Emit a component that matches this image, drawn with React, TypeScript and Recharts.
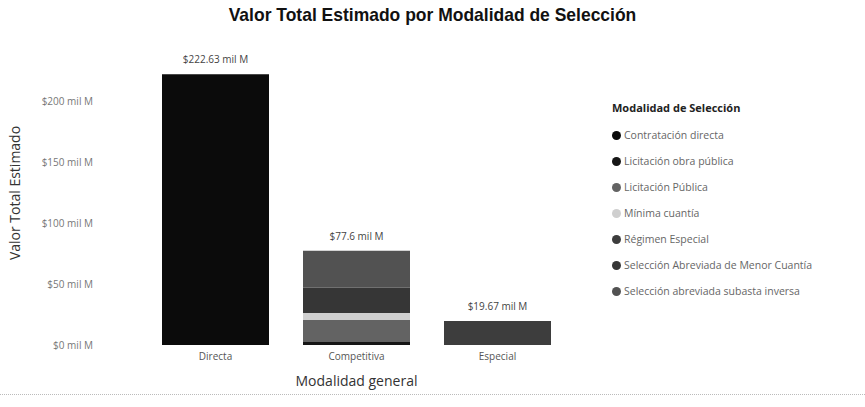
import React from "react";
import { BarChart, Bar, XAxis, YAxis, LabelList, Label } from "recharts";

const categories = ["Directa", "Competitiva", "Especial"];

// valores en miles de millones
const contratacionDirecta = [222.63, 0, 0];
const licitacionObraPublica = [0, 2.4, 0];
const licitacionPublica = [0, 18.2, 0];
const minimaCuantia = [0, 5.7, 0];
const regimenEspecial = [0, 0, 19.67];
const seleccionMenorCuantia = [0, 20.8, 0];
const seleccionSubastaInversa = [0, 30.5, 0];

const totalLabels = ["$222.63 mil M", "$77.6 mil M", "$19.67 mil M"];
const yTicks = [0, 50, 100, 150, 200];

const series = [
  { key: "cd", name: "Contratación directa", values: contratacionDirecta, color: "#0b0b0b" },
  { key: "lop", name: "Licitación obra pública", values: licitacionObraPublica, color: "#161616" },
  { key: "lp", name: "Licitación Pública", values: licitacionPublica, color: "#636363" },
  { key: "mc", name: "Mínima cuantía", values: minimaCuantia, color: "#cfcfcf" },
  { key: "re", name: "Régimen Especial", values: regimenEspecial, color: "#3d3d3d" },
  { key: "samc", name: "Selección Abreviada de Menor Cuantía", values: seleccionMenorCuantia, color: "#363636" },
  { key: "sasi", name: "Selección abreviada subasta inversa", values: seleccionSubastaInversa, color: "#525252" },
];

const data = categories.map((c, i) => {
  const row: Record<string, any> = { categoria: c };
  series.forEach((s) => (row[s.key] = s.values[i]));
  return row;
});

// la serie más alta con valor en cada categoría lleva el total
const topKey = categories.map((_, i) => {
  let k = "";
  series.forEach((s) => {
    if (s.values[i] > 0) k = s.key;
  });
  return k;
});

const font = "'Open Sans', 'DejaVu Sans', sans-serif";

const App: React.FC = () => {
  return (
    <div style={{ position: "absolute", left: 0, top: 0, width: 865, height: 407, background: "#fff" }}>
      <div
        style={{
          position: "absolute",
          top: 4,
          width: 865,
          textAlign: "center",
          fontFamily: "'Liberation Sans', sans-serif",
          fontWeight: 700,
          fontSize: 19,
          color: "#111",
          transform: "scaleX(0.92)",
        }}
      >
        Valor Total Estimado por Modalidad de Selección
      </div>
      <BarChart
        width={865}
        height={407}
        data={data}
        margin={{ top: 41, right: 297, bottom: 20, left: 0 }}
        barSize={107}
      >
        <XAxis
          dataKey="categoria"
          axisLine={false}
          tickLine={false}
          height={42}
          tick={{ fontSize: 10, fill: "#555", fontFamily: font }}
          tickMargin={2}
        >
          <Label
            value="Modalidad general"
            position="insideBottom"
            offset={1}
            style={{ fontSize: 14, fill: "#333", fontFamily: font }}
          />
        </XAxis>
        <YAxis
          width={145}
          domain={[0, 250]}
          ticks={yTicks}
          axisLine={false}
          tickLine={false}
          tickMargin={46}
          tick={{ fontSize: 10, fill: "#777", fontFamily: font }}
          tickFormatter={(v: number) => `$${v} mil M`}
        >
          <Label
            content={({ viewBox }: any) => {
              const cx = 16;
              const cy = viewBox.y + viewBox.height / 2;
              return (
                <text
                  x={cx}
                  y={cy}
                  transform={`rotate(-90 ${cx} ${cy})`}
                  textAnchor="middle"
                  dominantBaseline="middle"
                  style={{ fontSize: 14, fill: "#333", fontFamily: font }}
                >
                  Valor Total Estimado
                </text>
              );
            }}
          />
        </YAxis>
        {series.map((s) => (
          <Bar key={s.key} dataKey={s.key} name={s.name} stackId="a" fill={s.color} isAnimationActive={false}>
            <LabelList
              dataKey={s.key}
              content={(p: any) => {
                const i = s.values.findIndex((v) => v === Number(p.value));
                if (i < 0 || !(s.values[i] > 0) || topKey[i] !== s.key) return null;
                return (
                  <text
                    x={p.x + p.width / 2}
                    y={p.y - 11}
                    textAnchor="middle"
                    style={{ fontSize: 10, fill: "#444", fontFamily: font }}
                  >
                    {totalLabels[i]}
                  </text>
                );
              }}
            />
          </Bar>
        ))}
      </BarChart>
      <div style={{ position: "absolute", left: 612, top: 100, fontFamily: font }}>
        <div style={{ fontSize: 11, fontWeight: 700, color: "#222", marginBottom: 7 }}>Modalidad de Selección</div>
        {series.map((s) => (
          <div
            key={s.key}
            style={{ display: "flex", alignItems: "center", height: 26, fontSize: 10.5, color: "#666" }}
          >
            <span
              style={{
                width: 9,
                height: 9,
                borderRadius: 5,
                background: s.color,
                marginRight: 3,
                display: "inline-block",
              }}
            />
            {s.name}
          </div>
        ))}
      </div>
      <div style={{ position: "absolute", left: 0, top: 394, width: 865, borderTop: "1px dotted #bbb" }} />
    </div>
  );
};

export default App;
